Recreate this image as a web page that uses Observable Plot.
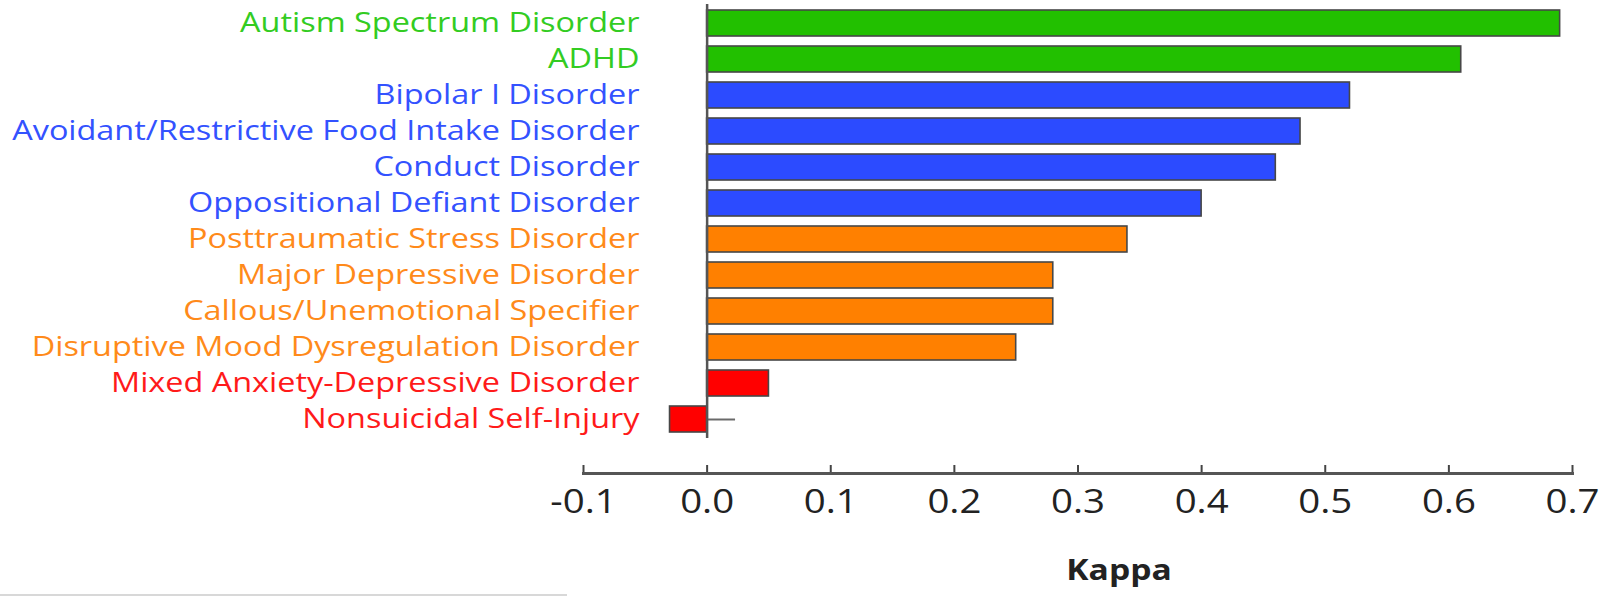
<!DOCTYPE html>
<html>
<head>
<meta charset="utf-8">
<script src="https://cdn.jsdelivr.net/npm/d3@7"></script>
<script src="https://cdn.jsdelivr.net/npm/@observablehq/plot@0.6"></script>
<style>
  html, body { margin: 0; padding: 0; background: #fff; }
  #chart { position: relative; width: 1615px; height: 596px; overflow: hidden; }
  #chart svg { display: block; }
  #edge { position: absolute; left: 0; top: 594px; width: 567px; height: 2px; background: #d8d8d8; }
</style>
</head>
<body>
<div id="chart"><div id="edge"></div></div>
<script>
// ---- data ----
const disorders = [
  "Autism Spectrum Disorder",
  "ADHD",
  "Bipolar I Disorder",
  "Avoidant/Restrictive Food Intake Disorder",
  "Conduct Disorder",
  "Oppositional Defiant Disorder",
  "Posttraumatic Stress Disorder",
  "Major Depressive Disorder",
  "Callous/Unemotional Specifier",
  "Disruptive Mood Dysregulation Disorder",
  "Mixed Anxiety-Depressive Disorder",
  "Nonsuicidal Self-Injury"
];
const kappa = [0.69, 0.61, 0.52, 0.48, 0.46, 0.40, 0.34, 0.28, 0.28, 0.25, 0.05, -0.03];
const tier = [
  "very good", "very good",
  "good", "good", "good", "good",
  "questionable", "questionable", "questionable", "questionable",
  "unacceptable", "unacceptable"
];
const whiskerRows = ["Nonsuicidal Self-Injury"];
const whiskerLow = [0];
const whiskerHigh = [0.023];
const xTicks = [-0.1, 0.0, 0.1, 0.2, 0.3, 0.4, 0.5, 0.6, 0.7];
const xTitle = "Kappa";

// ---- styles ----
const barColor = {"very good": "#22c000", "good": "#2c4bff", "questionable": "#ff8000", "unacceptable": "#ff0000"};
const textColor = {"very good": "#33cc22", "good": "#3352ff", "questionable": "#ff8a1a", "unacceptable": "#ff1a1a"};

const rows = disorders.map((name, i) => ({name, kappa: kappa[i], tier: tier[i]}));
const whiskers = whiskerRows.map((name, i) => ({name, lo: whiskerLow[i], hi: whiskerHigh[i]}));

const W = 1615, H = 596;
const plot = Plot.plot({
  width: W,
  height: H,
  marginLeft: 583,
  marginRight: 43,
  marginTop: 4,
  marginBottom: 123,
  style: {fontFamily: "'Open Sans', sans-serif", background: "#fff"},
  x: {domain: [-0.1, 0.7], label: null},
  y: {domain: disorders, range: [3, 438], paddingInner: 0.28, paddingOuter: 0.14, axis: null},
  color: {type: "identity"},
  marks: [
    Plot.barX(rows, {x: "kappa", y: "name", fill: d => barColor[d.tier], stroke: "#474747", strokeWidth: 1.6}),
    Plot.ruleY(whiskers, {y: "name", x1: "lo", x2: "hi", stroke: "#6a6a6a", strokeWidth: 2}),
    Plot.ruleX([0], {insetBottom: 35, stroke: "#555", strokeWidth: 2.5}),
    Plot.text(rows, {y: "name", text: "name", frameAnchor: "left", dx: 56, textAnchor: "end",
      fill: d => textColor[d.tier], fontSize: 27}),
    Plot.ruleX(xTicks, {insetTop: 461, stroke: "#444", strokeWidth: 2}),
    Plot.frame({anchor: "bottom", stroke: "#555", strokeWidth: 3}),
    Plot.axisX({ticks: xTicks, tickSize: 0, tickPadding: 17, fontSize: 32, fill: "#222",
      tickFormat: d => d.toFixed(1), label: null}),
    Plot.text([xTitle], {frameAnchor: "bottom", dx: 41, dy: 106, fontSize: 28, fontWeight: "bold", fill: "#222"})
  ]
});
document.getElementById("chart").prepend(plot);

// horizontal stretch of the text to mimic the reference's wide lettering
const stretch = 1.2;
plot.querySelectorAll("text").forEach(t => {
  const len = t.getComputedTextLength();
  if (len > 0) {
    t.setAttribute("textLength", (len * stretch).toFixed(1));
    t.setAttribute("lengthAdjust", "spacingAndGlyphs");
  }
});
</script>
</body>
</html>
